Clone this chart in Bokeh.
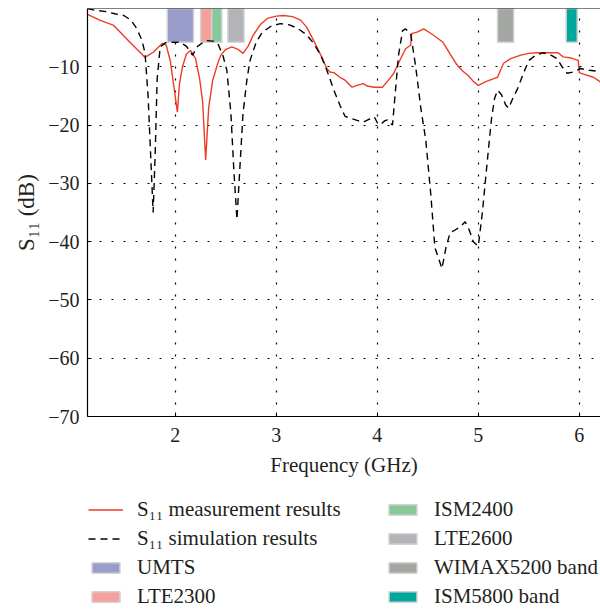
from bokeh.plotting import figure
from bokeh.models import Legend, LegendItem, FixedTicker, Range1d, Span
from bokeh.layouts import column
from bokeh.embed import file_html
from bokeh.resources import INLINE

# Measured S11 (GHz, dB)
f_meas = [1.13, 1.25, 1.39, 1.55, 1.65, 1.70, 1.78, 1.87, 1.91, 1.95, 1.99, 2.02, 2.04, 2.07,
          2.11, 2.15, 2.20, 2.24, 2.27, 2.30, 2.33, 2.37, 2.42, 2.45, 2.50, 2.56, 2.62, 2.67,
          2.72, 2.77, 2.84, 2.91, 3.00, 3.07, 3.16, 3.24, 3.30, 3.37, 3.44, 3.50, 3.53, 3.57,
          3.63, 3.68, 3.75, 3.80, 3.86, 3.90, 3.97, 4.05, 4.10, 4.16, 4.22, 4.28, 4.33, 4.34,
          4.40, 4.46, 4.55, 4.65, 4.72, 4.79, 4.85, 4.90, 4.95, 5.00, 5.08, 5.16, 5.19, 5.25,
          5.32, 5.42, 5.50, 5.58, 5.70, 5.79, 5.84, 5.92, 5.99, 6.00, 6.05, 6.14, 6.21]
s11_meas = [-1.0, -2.0, -2.9, -5.8, -7.5, -8.4, -7.5, -6.0, -6.3, -9.0, -14.0, -17.8, -13.0, -10.0,
            -7.8, -7.2, -8.6, -12.0, -16.0, -26.0, -17.0, -12.3, -9.4, -8.0, -7.0, -6.6, -7.0, -7.7,
            -6.5, -4.6, -2.8, -1.7, -1.3, -1.2, -1.4, -2.0, -3.2, -5.5, -8.0, -10.3, -10.9, -11.0,
            -11.8, -12.3, -13.5, -13.2, -12.9, -13.3, -13.5, -13.5, -12.5, -11.2, -9.0, -6.9, -6.3, -4.3,
            -4.0, -3.5, -4.5, -5.8, -7.8, -9.7, -10.8, -11.5, -12.5, -13.2, -12.5, -12.0, -11.8, -9.4,
            -8.6, -8.0, -7.7, -7.6, -7.6, -7.6, -8.3, -8.5, -8.9, -11.0, -11.3, -11.8, -12.6]

# Simulated S11 (GHz, dB)
f_sim = [1.13, 1.20, 1.30, 1.40, 1.49, 1.56, 1.62, 1.67, 1.70, 1.73, 1.76, 1.78, 1.80, 1.82,
         1.85, 1.90, 1.96, 2.05, 2.11, 2.17, 2.22, 2.30, 2.37, 2.42, 2.47, 2.51, 2.55, 2.58,
         2.61, 2.64, 2.67, 2.71, 2.74, 2.80, 2.86, 2.95, 3.04, 3.13, 3.21, 3.30, 3.37, 3.44,
         3.50, 3.57, 3.63, 3.68, 3.73, 3.80, 3.86, 3.92, 3.97, 4.00, 4.03, 4.07, 4.10, 4.15,
         4.18, 4.21, 4.25, 4.28, 4.33, 4.38, 4.43, 4.48, 4.53, 4.57, 4.64, 4.68, 4.72, 4.77,
         4.82, 4.87, 4.91, 4.95, 5.00, 5.04, 5.09, 5.13, 5.16, 5.19, 5.23, 5.27, 5.30, 5.34,
         5.39, 5.45, 5.50, 5.57, 5.64, 5.71, 5.78, 5.83, 5.88, 5.94, 6.01, 6.10, 6.21]
s11_sim = [0.0, -0.3, -0.5, -0.9, -1.2, -2.0, -3.5, -5.5, -7.7, -15.0, -27.0, -35.0, -25.0, -12.0,
           -6.6, -5.9, -5.8, -5.8, -6.5, -8.0, -6.5, -5.5, -5.6, -6.0, -8.0, -10.6, -18.0, -28.0,
           -36.2, -27.0, -18.0, -12.0, -8.9, -5.8, -4.1, -3.0, -2.6, -2.8, -3.4, -4.5, -6.0, -8.0,
           -10.6, -14.0, -16.6, -18.5, -18.8, -19.2, -19.5, -19.0, -18.6, -19.6, -20.0, -19.3, -19.1, -20.0,
           -14.0, -8.0, -3.8, -3.5, -4.3, -10.0, -17.0, -22.6, -32.0, -41.0, -44.6, -41.0, -38.5, -38.0,
           -37.5, -36.6, -38.0, -40.0, -40.8, -35.0, -26.0, -19.0, -15.5, -14.0, -14.8, -16.5, -17.1, -15.5,
           -13.7, -11.0, -8.9, -8.0, -7.6, -7.9, -8.6, -10.0, -11.1, -10.9, -10.3, -10.6, -10.8]

# Frequency bands
band_names = ["UMTS", "LTE2300", "ISM2400", "LTE2600", "WIMAX5200 band", "ISM5800 band"]
band_lo = [1.92, 2.25, 2.36, 2.52, 5.19, 5.87]
band_hi = [2.18, 2.36, 2.46, 2.68, 5.35, 5.98]
band_top = 0.0
band_bottom = -5.8
band_colors = ["#9A9CCB", "#F4A19B", "#87C89A", "#B3B4B7", "#A4A6A1", "#00A79B"]
band_edge = "#D2D3D5"

x_ticks = [2, 3, 4, 5, 6]
y_ticks = [-70, -60, -50, -40, -30, -20, -10]

meas_label = "S\u2081\u2081 measurement results"
sim_label = "S\u2081\u2081 simulation results"
RED = "#EE3B24"
FONT = "Liberation Serif"
TXT = "#231F20"


def style_renderers(fig):
    rs = []
    for lo, hi, c in zip(band_lo, band_hi, band_colors):
        rs.append(fig.quad(left=[lo], right=[hi], top=[band_top], bottom=[band_bottom],
                           fill_color=c, line_color=band_edge, line_width=1.5))
    r_m = fig.line(f_meas, s11_meas, line_color=RED, line_width=1.4)
    r_s = fig.line(f_sim, s11_sim, line_color="black", line_width=1.4, line_dash="7 5")
    return [r_m, r_s] + rs


p = figure(width=600, height=490, output_backend="svg", toolbar_location=None,
           x_range=Range1d(1.13, 6.21), y_range=Range1d(-70, 0),
           min_border_left=87, min_border_right=0, min_border_top=8, min_border_bottom=74,
           outline_line_color=None)
style_renderers(p)

# top frame line
p.add_layout(Span(location=0, dimension="width", line_color="black", line_width=1.2))

p.xaxis.ticker = FixedTicker(ticks=x_ticks)
p.yaxis.ticker = FixedTicker(ticks=y_ticks)
p.yaxis.major_label_overrides = {v: "\u2212" + str(-v) for v in y_ticks}
p.xaxis.axis_label = "Frequency (GHz)"
p.yaxis.axis_label = "S\u2081\u2081 (dB)"
for ax in (p.xaxis, p.yaxis):
    ax.axis_label_text_font = FONT
    ax.axis_label_text_font_style = "normal"
    ax.axis_label_text_font_size = "21px"
    ax.major_label_text_font = FONT
    ax.major_label_text_font_size = "20px"
    ax.major_label_text_color = TXT
    ax.axis_label_text_color = TXT
    ax.axis_line_color = "black"
    ax.axis_line_width = 1.2
    ax.major_tick_line_color = "black"
    ax.major_tick_in = 4
    ax.major_tick_out = 0
    ax.minor_tick_line_color = None
p.yaxis.axis_label_text_font_size = "23px"
p.xaxis.major_label_standoff = 11
p.xaxis.axis_label_standoff = 8
p.yaxis.major_label_standoff = 8
p.yaxis.axis_label_standoff = 6

p.grid.grid_line_color = "black"
p.grid.grid_line_dash = "2 10"
p.grid.grid_line_width = 1.2

# legend panel: same series drawn in a second figure whose ranges keep them out of view
q = figure(width=600, height=122, output_backend="svg", toolbar_location=None,
           x_range=Range1d(100, 101), y_range=Range1d(100, 101),
           min_border_left=0, min_border_right=0, min_border_top=0, min_border_bottom=0,
           outline_line_color=None)
q.axis.visible = False
q.grid.visible = False
proxies = style_renderers(q)

labels = [meas_label, sim_label] + band_names
order = [0, 4, 1, 5, 2, 6, 3, 7]
items = [LegendItem(label=labels[i], renderers=[proxies[i]]) for i in order]

legend = Legend(items=items, ncols=2, orientation="horizontal", location=(1, 3),
                label_text_font=FONT, label_text_font_size="21px", label_text_color=TXT,
                glyph_width=35, glyph_height=13, label_standoff=14, label_height=21,
                spacing=4, padding=0, margin=0, label_width=244,
                border_line_color=None, background_fill_alpha=0)
q.add_layout(legend)

open("out.html", "w").write(file_html(column(p, q, spacing=0), INLINE))
